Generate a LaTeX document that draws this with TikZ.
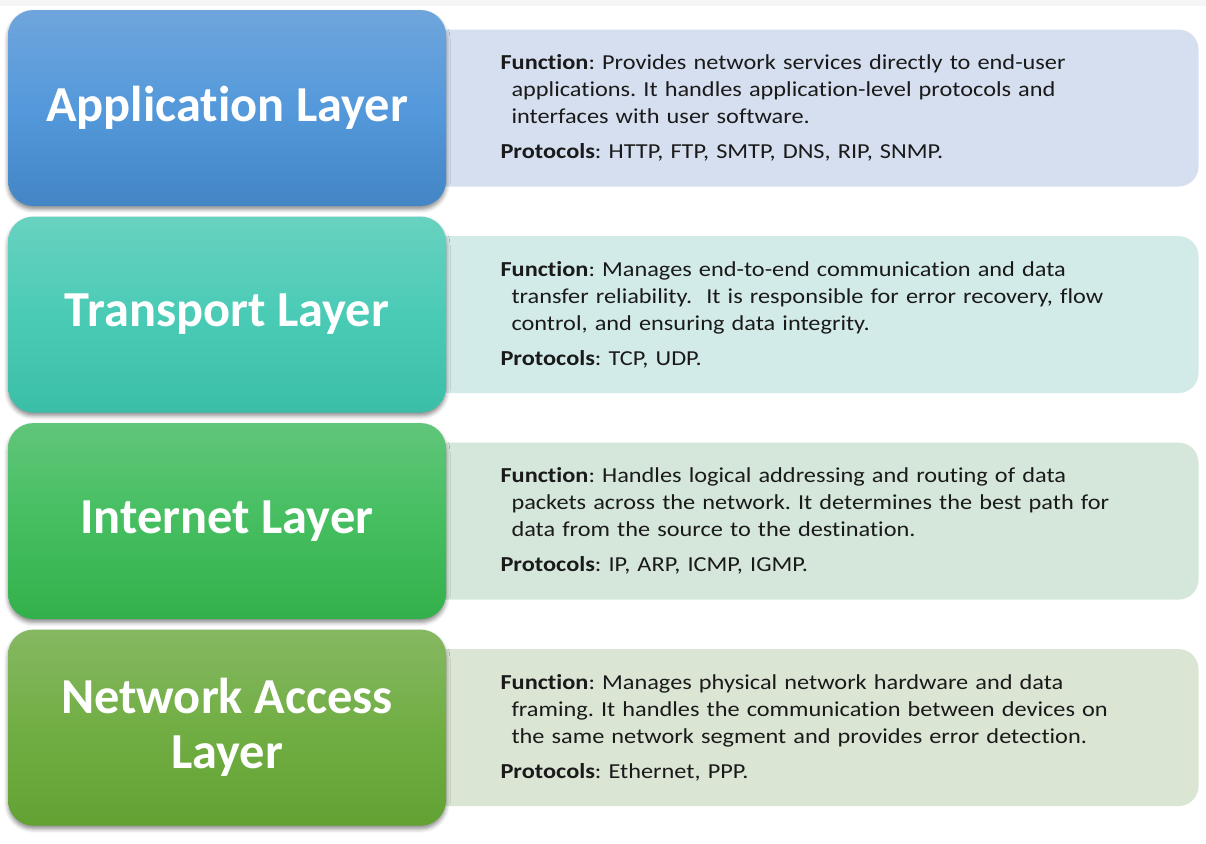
\documentclass[tikz,border=0pt]{standalone}
\usepackage{fontspec}
\setmainfont{Carlito}[Ligatures=NoCommon]
\newfontfamily\infofont{Carlito}[FakeStretch=1.14,Ligatures=NoCommon]
\usetikzlibrary{positioning}
\usetikzlibrary{shadows.blur}
\usetikzlibrary{backgrounds}
\frenchspacing

\definecolor{apptop}{HTML}{6FA5DC}
\definecolor{appmid}{HTML}{5499DB}
\definecolor{appbot}{HTML}{4385C5}
\definecolor{appinfo}{HTML}{D5DFEF}
\definecolor{trtop}{HTML}{68D2C0}
\definecolor{trmid}{HTML}{4ACBB6}
\definecolor{trbot}{HTML}{3BBEA7}
\definecolor{trinfo}{HTML}{D3EBE8}
\definecolor{intop}{HTML}{60C67A}
\definecolor{inmid}{HTML}{45BE60}
\definecolor{inbot}{HTML}{33B04B}
\definecolor{ininfo}{HTML}{D5E7DB}
\definecolor{natop}{HTML}{86B862}
\definecolor{namid}{HTML}{71AE44}
\definecolor{nabot}{HTML}{62A233}
\definecolor{nainfo}{HTML}{DBE5D4}
\definecolor{textgray}{HTML}{1A1A1A}
\definecolor{topband}{HTML}{F5F5F5}

\newcommand{\contind}{\hspace*{8.25pt}}

\begin{document}
\begin{tikzpicture}[
    node distance=7.5pt,
    layer/.style={rounded corners=19pt,minimum width=328.5pt,minimum height=147pt,
      text=white,align=center,font=\fontsize{37.8}{41.25}\selectfont\bfseries,
      blur shadow={shadow xshift=0pt,shadow yshift=-2.5pt,shadow blur radius=3pt,shadow opacity=45}},
    info/.style={rounded corners=15pt,minimum width=583.5pt,minimum height=117.75pt,
      text width=463.5pt,inner xsep=60pt,align=left,text=textgray,
      font=\infofont\fontsize{16}{20.25}\selectfont}
    ]
    \useasboundingbox (0,0) rectangle (904.5pt,-632.25pt);

    \node[layer,top color=apptop,bottom color=appbot,middle color=appmid] (app) at (170.25pt,-81pt) {Application Layer};
    \node[layer,top color=trtop,bottom color=trbot,middle color=trmid,below=of app] (trans) {Transport Layer};
    \node[layer,top color=intop,bottom color=inbot,middle color=inmid,below=of trans] (inet) {Internet Layer};
    \node[layer,top color=natop,bottom color=nabot,middle color=namid,below=of inet] (netacc) {Network Access\\Layer};

    \begin{scope}[on background layer]
    \fill[topband] (0,0) rectangle (904.5pt,-4.5pt);
    \node[info,fill=appinfo,right=-19.5pt of app] (appinfo) {\textbf{Function}: Provides network services directly to end-user\\
      \contind applications. It handles application-level protocols and\\
      \contind interfaces with user software.\\[6pt]
      \textbf{Protocols}: HTTP, FTP, SMTP, DNS, RIP, SNMP.};
    \node[info,fill=trinfo,right=-19.5pt of trans] (transinfo) {\textbf{Function}: Manages end-to-end communication and data\\
      \contind transfer reliability.\ \ It is responsible for error recovery, flow\\
      \contind control, and ensuring data integrity.\\[6pt]
      \textbf{Protocols}: TCP, UDP.};
    \node[info,fill=ininfo,right=-19.5pt of inet] (inetinfo) {\textbf{Function}: Handles logical addressing and routing of data\\
      \contind packets across the network. It determines the best path for\\
      \contind data from the source to the destination.\\[6pt]
      \textbf{Protocols}: IP, ARP, ICMP, IGMP.};
    \node[info,fill=nainfo,right=-19.5pt of netacc] (netaccinfo) {\textbf{Function}: Manages physical network hardware and data\\
      \contind framing. It handles the communication between devices on\\
      \contind the same network segment and provides error detection.\\[6pt]
      \textbf{Protocols}: Ethernet, PPP.};
    \end{scope}

\end{tikzpicture}
\end{document}
